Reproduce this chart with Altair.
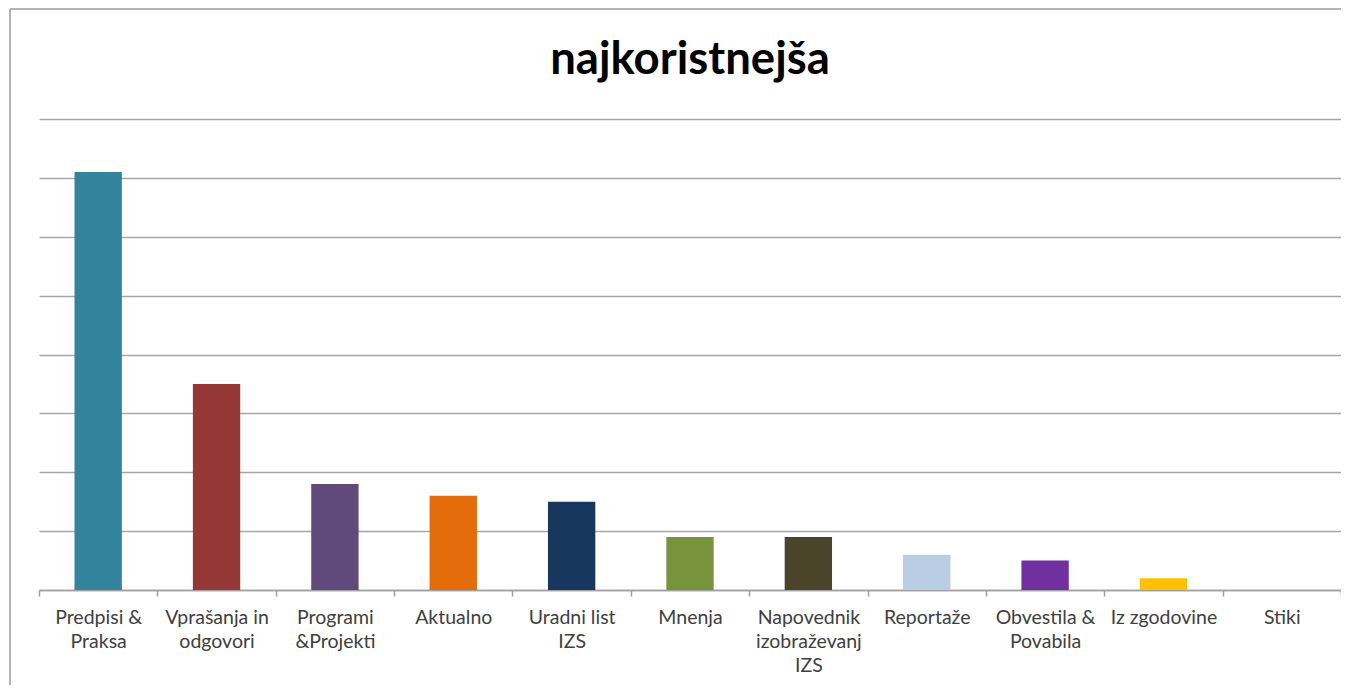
import altair as alt
import pandas as pd

categories = [
    "Predpisi &\nPraksa",
    "Vprašanja in\nodgovori",
    "Programi\n&Projekti",
    "Aktualno",
    "Uradni list\nIZS",
    "Mnenja",
    "Napovednik\nizobraževanj\nIZS",
    "Reportaže",
    "Obvestila &\nPovabila",
    "Iz zgodovine",
    "Stiki",
]
values = [71, 35, 18, 16, 15, 9, 9, 6, 5, 2, 0]
colors = ["#31849B", "#953735", "#604A7B", "#E46C0A", "#17375E", "#77933C",
          "#4A452A", "#B9CDE5", "#7030A0", "#FFC000", "#4BACC6"]
y_ticks = [0, 10, 20, 30, 40, 50, 60, 70, 80]
title_text = ["najkoristnejša"]

df = pd.DataFrame({"cat": categories, "val": values})
tdf = pd.DataFrame({"t": title_text})

W, H = 1302, 471
FONT = "Lato"

bars = alt.Chart(df).mark_bar(width=alt.RelativeBandSize(0.4)).encode(
    x=alt.X("cat:N", sort=categories, title=None,
            scale=alt.Scale(paddingInner=0, paddingOuter=0),
            axis=alt.Axis(tickBand="extent",
                          labelAngle=0,
                          labelExpr="datum.value ? split(datum.value, '\\n') : ''",
                          labelFont=FONT, labelFontSize=19.5, labelColor="#404040",
                          labelBaseline="top", labelLineHeight=24, labelPadding=12,
                          labelAlign="center",
                          domainColor="#A0A0A0", domainWidth=1.5,
                          tickColor="#A0A0A0", tickWidth=1.5, tickSize=6,
                          grid=False)),
    y=alt.Y("val:Q", title=None,
            scale=alt.Scale(domain=[0, 80], nice=False),
            axis=alt.Axis(values=y_ticks, labels=False, ticks=False, domain=False,
                          grid=True, gridColor="#A6A6A6", gridWidth=1.5)),
    color=alt.Color("cat:N", sort=categories, legend=None,
                    scale=alt.Scale(domain=categories, range=colors)),
)

border_v = alt.Chart(tdf).mark_rule(stroke="#9A9A9A", strokeWidth=1.5).encode(
    x=alt.value(-29), y=alt.value(-110), y2=alt.value(H + 200),
)
border_h = alt.Chart(tdf).mark_rule(stroke="#9A9A9A", strokeWidth=1.5).encode(
    x=alt.value(-29), x2=alt.value(W + 60), y=alt.value(-110),
)

title = alt.Chart(tdf).mark_text(font=FONT, fontSize=45.5, fontWeight="bold",
                                 color="#000000", align="center",
                                 baseline="alphabetic").encode(
    x=alt.value(W / 2), y=alt.value(-45), text="t:N",
)

chart = alt.layer(border_v, border_h, bars, title).properties(
    width=W, height=H,
    autosize=alt.AutoSizeParams(type="none"),
    padding={"left": 31, "top": 111, "right": 0, "bottom": 95},
).configure_view(stroke=None)

chart.save("out.html", embed_options={"renderer": "svg", "actions": False})
